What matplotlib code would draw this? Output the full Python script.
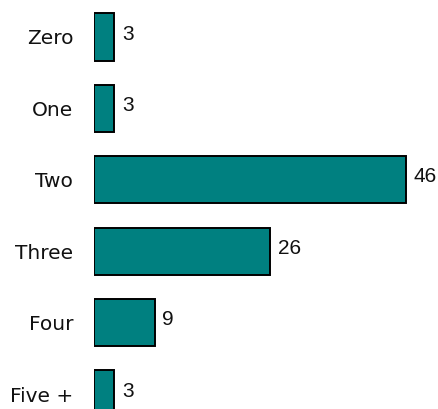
import matplotlib.pyplot as plt

categories = ['Zero', 'One', 'Two', 'Three', 'Four', 'Five +']
values = [3, 3, 46, 26, 9, 3]

fig = plt.figure(figsize=(4.39, 4.09), dpi=100)
# axes start where the bars start (x=94px) and fill the rest
ax = fig.add_axes([94 / 439, 0, 1 - 94 / 439, 1])

pos = list(range(len(categories)))
ax.barh(pos, values, height=0.66, color='#008080', edgecolor='black', linewidth=1.4)

for p, v in zip(pos, values):
    ax.text(v + 1.1, p - 0.04, str(v), va='center', ha='left', fontsize=15,
            family='Liberation Sans', color='#111111')

ax.set_xlim(0, (439 - 94) / 6.78)
ax.set_ylim((409 - 37) / 71.4, -37 / 71.4)
ax.set_yticks(pos)
ax.set_yticklabels(categories, fontsize=14.5, color='#111111')
ax.tick_params(axis='y', length=0, pad=15)
ax.set_xticks([])
for s in ax.spines.values():
    s.set_visible(False)

fig.savefig('out.png', dpi=100)
